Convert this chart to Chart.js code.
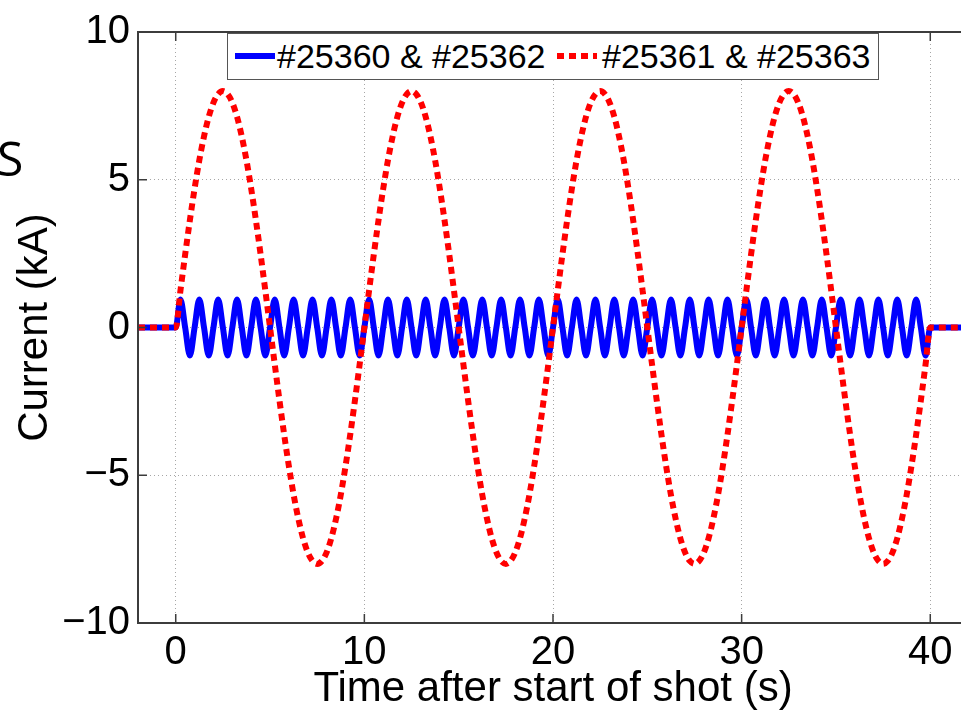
<!DOCTYPE html>
<html>
<head>
<meta charset="utf-8">
<title>Coil current</title>
<script src="https://cdn.jsdelivr.net/npm/chart.js@4.4.1/dist/chart.umd.min.js"></script>
<style>
  html, body { margin: 0; padding: 0; background: #fff; overflow: hidden; }
  #wrap { position: relative; width: 961px; height: 711px; overflow: hidden; }
  #currentChart { position: absolute; left: 0; top: 0; }
  #slideText { position: absolute; left: -3px; top: 134px; font: 48px/48px "Open Sans", sans-serif; color: #000; }
  #legend { position: absolute; left: 227px; top: 33px; width: 650px; height: 45px; border: 1px solid #555; background: #fff;
            font: 34px/45px "Liberation Sans", Arial, sans-serif; color: #000; }
  #legend span, #legend svg { position: absolute; top: 0; white-space: nowrap; }
</style>
</head>
<body>
<div id="wrap">
  <canvas id="currentChart" width="1000" height="711"></canvas>
  <div id="slideText">S</div>
  <div id="legend"></div>
</div>
<script>
// sample times (s), shared by both current traces
const timeS = [-2,
  0, 0.25, 0.5, 0.75, 1, 1.25, 1.5, 1.75,
  2, 2.25, 2.5, 2.75, 3, 3.25, 3.5, 3.75,
  4, 4.25, 4.5, 4.75, 5, 5.25, 5.5, 5.75,
  6, 6.25, 6.5, 6.75, 7, 7.25, 7.5, 7.75,
  8, 8.25, 8.5, 8.75, 9, 9.25, 9.5, 9.75,
  10, 10.25, 10.5, 10.75, 11, 11.25, 11.5, 11.75,
  12, 12.25, 12.5, 12.75, 13, 13.25, 13.5, 13.75,
  14, 14.25, 14.5, 14.75, 15, 15.25, 15.5, 15.75,
  16, 16.25, 16.5, 16.75, 17, 17.25, 17.5, 17.75,
  18, 18.25, 18.5, 18.75, 19, 19.25, 19.5, 19.75,
  20, 20.25, 20.5, 20.75, 21, 21.25, 21.5, 21.75,
  22, 22.25, 22.5, 22.75, 23, 23.25, 23.5, 23.75,
  24, 24.25, 24.5, 24.75, 25, 25.25, 25.5, 25.75,
  26, 26.25, 26.5, 26.75, 27, 27.25, 27.5, 27.75,
  28, 28.25, 28.5, 28.75, 29, 29.25, 29.5, 29.75,
  30, 30.25, 30.5, 30.75, 31, 31.25, 31.5, 31.75,
  32, 32.25, 32.5, 32.75, 33, 33.25, 33.5, 33.75,
  34, 34.25, 34.5, 34.75, 35, 35.25, 35.5, 35.75,
  36, 36.25, 36.5, 36.75, 37, 37.25, 37.5, 37.75,
  38, 38.25, 38.5, 38.75, 39, 39.25, 39.5, 39.75,
  40, 42];

// shots #25360 / #25362 (kA)
const currentFast = [0,
  0, 0.95, 0, -0.95, 0, 0.95, 0, -0.95,
  0, 0.95, 0, -0.95, 0, 0.95, 0, -0.95,
  0, 0.95, 0, -0.95, 0, 0.95, 0, -0.95,
  0, 0.95, 0, -0.95, 0, 0.95, 0, -0.95,
  0, 0.95, 0, -0.95, 0, 0.95, 0, -0.95,
  0, 0.95, 0, -0.95, 0, 0.95, 0, -0.95,
  0, 0.95, 0, -0.95, 0, 0.95, 0, -0.95,
  0, 0.95, 0, -0.95, 0, 0.95, 0, -0.95,
  0, 0.95, 0, -0.95, 0, 0.95, 0, -0.95,
  0, 0.95, 0, -0.95, 0, 0.95, 0, -0.95,
  0, 0.95, 0, -0.95, 0, 0.95, 0, -0.95,
  0, 0.95, 0, -0.95, 0, 0.95, 0, -0.95,
  0, 0.95, 0, -0.95, 0, 0.95, 0, -0.95,
  0, 0.95, 0, -0.95, 0, 0.95, 0, -0.95,
  0, 0.95, 0, -0.95, 0, 0.95, 0, -0.95,
  0, 0.95, 0, -0.95, 0, 0.95, 0, -0.95,
  0, 0.95, 0, -0.95, 0, 0.95, 0, -0.95,
  0, 0.95, 0, -0.95, 0, 0.95, 0, -0.95,
  0, 0.95, 0, -0.95, 0, 0.95, 0, -0.95,
  0, 0.95, 0, -0.95, 0, 0.95, 0, -0.95,
  0, 0];

// shots #25361 / #25363 (kA)
const currentSlow = [0,
  0, 1.25, 2.47, 3.63, 4.70, 5.66, 6.47, 7.13,
  7.61, 7.90, 8, 7.90, 7.61, 7.13, 6.47, 5.66,
  4.70, 3.63, 2.47, 1.25, 0, -1.25, -2.47, -3.63,
  -4.70, -5.66, -6.47, -7.13, -7.61, -7.90, -8, -7.90,
  -7.61, -7.13, -6.47, -5.66, -4.70, -3.63, -2.47, -1.25,
  0, 1.25, 2.47, 3.63, 4.70, 5.66, 6.47, 7.13,
  7.61, 7.90, 8, 7.90, 7.61, 7.13, 6.47, 5.66,
  4.70, 3.63, 2.47, 1.25, 0, -1.25, -2.47, -3.63,
  -4.70, -5.66, -6.47, -7.13, -7.61, -7.90, -8, -7.90,
  -7.61, -7.13, -6.47, -5.66, -4.70, -3.63, -2.47, -1.25,
  0, 1.25, 2.47, 3.63, 4.70, 5.66, 6.47, 7.13,
  7.61, 7.90, 8, 7.90, 7.61, 7.13, 6.47, 5.66,
  4.70, 3.63, 2.47, 1.25, 0, -1.25, -2.47, -3.63,
  -4.70, -5.66, -6.47, -7.13, -7.61, -7.90, -8, -7.90,
  -7.61, -7.13, -6.47, -5.66, -4.70, -3.63, -2.47, -1.25,
  0, 1.25, 2.47, 3.63, 4.70, 5.66, 6.47, 7.13,
  7.61, 7.90, 8, 7.90, 7.61, 7.13, 6.47, 5.66,
  4.70, 3.63, 2.47, 1.25, 0, -1.25, -2.47, -3.63,
  -4.70, -5.66, -6.47, -7.13, -7.61, -7.90, -8, -7.90,
  -7.61, -7.13, -6.47, -5.66, -4.70, -3.63, -2.47, -1.25,
  0, 0];

const seriesNames = ["#25360 & #25362", "#25361 & #25363"];
const xTicks = [0, 10, 20, 30, 40];
const yTicks = [-10, -5, 0, 5, 10];

const FONT = "'Liberation Sans', Arial, Helvetica, sans-serif";

function points(values) {
  return timeS.map((t, i) => ({ x: t, y: values[i] }));
}

// box round the axes plus the short inward tick marks
const axesFrame = {
  id: "axesFrame",
  afterDatasetsDraw(chart) {
    const { ctx, chartArea: a, scales: { x, y } } = chart;
    ctx.save();
    ctx.strokeStyle = "#3c3c3c";
    ctx.lineWidth = 2;
    ctx.strokeRect(a.left, a.top, a.right - a.left, a.bottom - a.top);
    ctx.beginPath();
    xTicks.forEach(v => {
      const px = x.getPixelForValue(v);
      ctx.moveTo(px, a.bottom); ctx.lineTo(px, a.bottom - 9);
      ctx.moveTo(px, a.top); ctx.lineTo(px, a.top + 9);
    });
    yTicks.forEach(v => {
      const py = y.getPixelForValue(v);
      ctx.moveTo(a.left, py); ctx.lineTo(a.left + 9, py);
    });
    ctx.lineWidth = 1.5;
    ctx.stroke();
    ctx.restore();
  }
};

const chart = new Chart(document.getElementById("currentChart"), {
  type: "line",
  data: {
    datasets: [{
      label: seriesNames[0],
      data: points(currentFast),
      borderColor: "#0000ff",
      borderWidth: 6,
      order: 1
    }, {
      label: seriesNames[1],
      data: points(currentSlow),
      borderColor: "#ff0000",
      borderWidth: 6,
      borderDash: [7, 5],
      order: 0
    }]
  },
  options: {
    responsive: false,
    animation: false,
    events: [],
    parsing: false,
    layout: { padding: { top: 27, right: 32, bottom: 0, left: 0 } },
    elements: {
      point: { radius: 0 },
      line: { cubicInterpolationMode: "monotone", fill: false }
    },
    plugins: { legend: { display: false }, tooltip: { enabled: false } },
    scales: {
      x: {
        type: "linear",
        min: -2,
        max: 42,
        afterBuildTicks: s => { s.ticks = xTicks.map(v => ({ value: v })); },
        afterFit: s => { s.height = 88; },
        grid: { color: "rgba(0,0,0,0.35)", lineWidth: 1, drawTicks: false },
        border: { display: false, dash: [1, 3] },
        ticks: { color: "#000", font: { family: FONT, size: 40 }, padding: 6, maxRotation: 0, autoSkip: false },
        title: {
          display: true,
          text: "Time after start of shot (s)",
          color: "#000",
          font: { family: FONT, size: 42, lineHeight: 1 },
          padding: { top: 0, bottom: 1 }
        }
      },
      y: {
        type: "linear",
        min: -10,
        max: 10,
        afterBuildTicks: s => { s.ticks = yTicks.map(v => ({ value: v })); },
        afterFit: s => { s.width = 138; },
        grid: { color: "rgba(0,0,0,0.35)", lineWidth: 1, drawTicks: false },
        border: { display: false, dash: [1, 3] },
        ticks: {
          color: "#000",
          font: { family: FONT, size: 40 },
          padding: 8,
          callback: v => String(v).replace("-", "\u2212")
        },
        title: {
          display: true,
          text: "Current (kA)",
          color: "#000",
          font: { family: FONT, size: 42, lineHeight: 1.2 },
          padding: { top: 10, bottom: 0 }
        }
      }
    }
  },
  plugins: [axesFrame]
});

// legend box inside the axes, styled from the datasets
const legend = document.getElementById("legend");
const sampleLeft = [7, 329];
const textLeft = [49, 374];
chart.data.datasets.forEach((ds, i) => {
  const svgNS = "http://www.w3.org/2000/svg";
  const svg = document.createElementNS(svgNS, "svg");
  svg.setAttribute("width", 40);
  svg.setAttribute("height", 45);
  svg.style.left = sampleLeft[i] + "px";
  const line = document.createElementNS(svgNS, "line");
  line.setAttribute("x1", 0); line.setAttribute("x2", 40);
  line.setAttribute("y1", 22); line.setAttribute("y2", 22);
  line.setAttribute("stroke", ds.borderColor);
  line.setAttribute("stroke-width", ds.borderWidth);
  if (ds.borderDash) line.setAttribute("stroke-dasharray", ds.borderDash.join(" "));
  svg.appendChild(line);
  legend.appendChild(svg);

  const label = document.createElement("span");
  label.textContent = ds.label;
  label.style.left = textLeft[i] + "px";
  legend.appendChild(label);
});
</script>
</body>
</html>
